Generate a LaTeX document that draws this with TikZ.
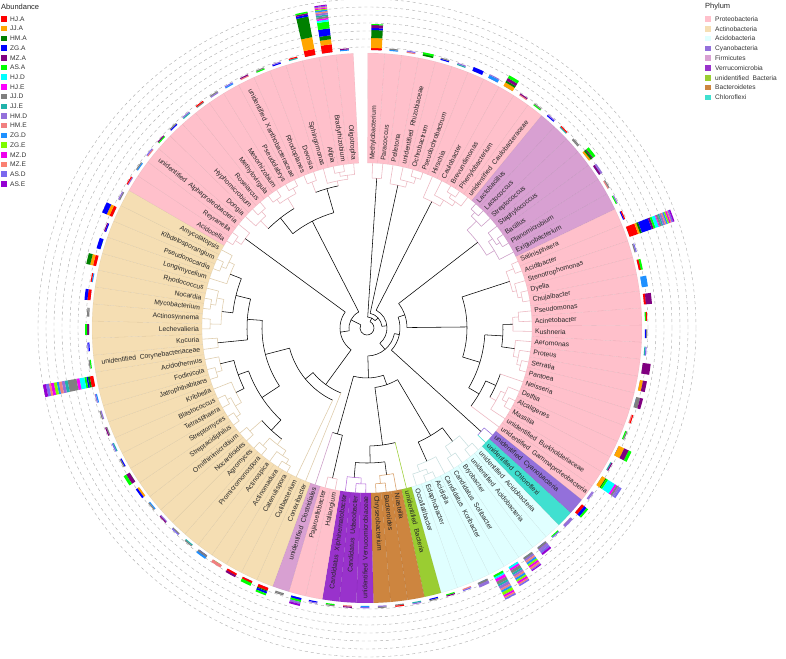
\documentclass[tikz,border=0pt]{standalone}
\usepackage{fontspec}
\setmainfont{Liberation Sans}
% phylum fills
\definecolor{proteo}{RGB}{255,192,203}
\definecolor{actino}{RGB}{245,222,179}
\definecolor{acido}{RGB}{224,255,255}
\definecolor{cyano}{RGB}{147,112,219}
\definecolor{firmi}{RGB}{216,160,210}
\definecolor{verruco}{RGB}{153,50,204}
\definecolor{unbact}{RGB}{154,205,50}
\definecolor{bactero}{RGB}{205,133,63}
\definecolor{chloro}{RGB}{64,224,208}
% branch colours
\colorlet{pline}{proteo!85!gray}
\colorlet{tline}{actino!80!gray}
\colorlet{aqline}{acido!75!gray}
\colorlet{fline}{firmi!85!gray}
\colorlet{cyline}{cyano}
\colorlet{chline}{chloro}
\colorlet{gline}{unbact}
\colorlet{bline}{bactero!80!white}
\colorlet{vline}{verruco!70!white}
% sample colours
\definecolor{sHJA}{RGB}{255,0,0}
\definecolor{sJJA}{RGB}{255,165,0}
\definecolor{sHMA}{RGB}{0,128,0}
\definecolor{sZGA}{RGB}{0,0,255}
\definecolor{sMZA}{RGB}{128,0,128}
\definecolor{sASA}{RGB}{0,255,0}
\definecolor{sHJD}{RGB}{0,255,255}
\definecolor{sHJE}{RGB}{255,0,255}
\definecolor{sJJD}{RGB}{128,128,128}
\definecolor{sJJE}{RGB}{32,178,170}
\definecolor{sHMD}{RGB}{147,112,219}
\definecolor{sHME}{RGB}{240,128,128}
\definecolor{sZGD}{RGB}{30,144,255}
\definecolor{sZGE}{RGB}{124,252,0}
\definecolor{sMZD}{RGB}{238,0,238}
\definecolor{sMZE}{RGB}{250,128,114}
\definecolor{sASD}{RGB}{123,104,238}
\definecolor{sASE}{RGB}{148,0,211}
\tikzset{
  declare function={ang(\k)=89.85-(\k-0.5)*3.57;},
  taxwedge/.style = {draw=black, draw opacity=0.07, line width=0.3pt},
  treeline/.style = {line width=0.55pt},
  tiplabel/.style = {font=\fontsize{6.8}{7}\selectfont, text=black!85, inner sep=0pt},
  gridline/.style = {gray!65, line width=0.4pt, dash pattern=on 3pt off 3pt},
  legtext/.style  = {font=\fontsize{6.6}{7}\selectfont, text=black!80, inner sep=0pt, anchor=west},
  legtitle/.style = {font=\fontsize{7.5}{8}\selectfont, text=black!85, inner sep=0pt, anchor=west},
  legkey/.style   = {minimum size=5.5pt, inner sep=0pt}
}

\begin{document}
\begin{tikzpicture}[x=1pt,y=1pt]
  \fill[white] (-367,-330) rectangle (419,328);
  \useasboundingbox (-367,-330) rectangle (419,328);

  % dashed rings behind the bars
  \foreach \gr in {281,289,297,305,313,321,329}
    \draw[gridline] (0,0) circle[radius=\gr];

  % phylum wedges, one slice per genus
  \foreach \na/\nb/\col in {1/11/proteo,12/18/firmi,19/36/proteo,37/37/cyano,38/38/chloro,
      39/46/acido,47/47/unbact,48/50/bactero,51/53/verruco,54/55/proteo,56/56/firmi,
      57/84/actino,85/100/proteo}
    \foreach \i in {\na,...,\nb}{
      \pgfmathsetmacro\angA{ang(\i)+1.785}
      \pgfmathsetmacro\angB{ang(\i)-1.785}
      \filldraw[taxwedge, fill=\col] (\angA:165) arc[start angle=\angA, end angle=\angB, radius=165]
        -- (\angB:275) arc[start angle=\angB, end angle=\angA, radius=275] -- cycle;
    }

  % tree: internal nodes (pos/first/last/radius/parent radius/line colour/arc colour)
  \foreach \np/\na/\nb/\nr/\nq/\nl/\nc in {
      1.5/1/2/150/11/black/pline, 5.5/5/6/158/152/pline/pline, 4.75/4/5.5/152/146/pline/pline,
      3.875/3/4.75/146/15/black/pline, 9.5/9/10/158/154/pline/pline, 10.25/9.5/11/154/149/pline/pline,
      9.125/8/10.25/149/142/pline/pline, 8.06/7/9.125/142/20/black/pline,
      12.5/12/13/158/153/fline/fline, 13.25/12.5/14/153/140/fline/fline, 16.5/16/17/158/154/fline/fline,
      15.75/15/16.5/154/149/fline/fline, 16.9/15.75/18/149/140/fline/fline, 15.1/13.25/16.9/140/40/black/fline,
      19.5/19/20/158/150/pline/pline, 22.5/22/23/158/154/pline/pline, 21.75/21/22.5/154/150/pline/pline,
      20.6/19.5/21.75/150/100/black/pline, 24.5/24/25/152/146/pline/pline, 25.25/24.5/26/146/136/black/pline,
      29.5/29/30/158/154/pline/pline, 28.75/28/29.5/154/149/pline/pline, 27.9/27/28.75/149/136/black/pline,
      26.6/25.25/27.9/136/118/black/black, 33.5/33/34/158/153/pline/pline, 32.75/32/33.5/153/148/pline/pline,
      33.9/32.75/35/148/141/pline/pline, 32.4/31/33.9/141/130/black/black, 34.2/32.4/36/130/118/black/black,
      30.4/26.6/34.2/118/100/black/black, 25.5/20.6/30.4/100/40/black/black,
      37.5/37/38/154/33/black/cyline,
      39.5/39/40/156/142/aqline/aqline, 41.5/41/42/153/142/aqline/aqline, 40.5/39.5/41.5/142/125/black/aqline,
      44.5/44/45/158/153/aqline/aqline, 45.25/44.5/46/153/146/aqline/aqline, 44.1/43/45.25/146/125/black/aqline,
      42.3/40.5/44.1/125/60/black/black,
      49.5/49/50/156/148/bline/bline, 48.75/48/49.5/148/135/black/bline, 51.5/51/52/156/150/vline/vline,
      52.25/51.5/53/150/135/black/vline, 50.5/48.75/52.25/135/118/black/black, 48.75/47/50.5/118/60/black/black,
      54.5/54/55/154/110/black/pline,
      59.5/59/60/158/153/tline/tline, 60.25/59.5/61/153/147/tline/tline, 62.5/62/63/157/147/tline/tline,
      61.4/60.25/62.5/147/140/tline/tline, 64.5/64/65/156/140/tline/tline, 62.95/61.4/64.5/140/126/black/black,
      66.5/66/67/158/153/tline/tline, 68.5/68/69/157/153/tline/tline, 67.5/66.5/68.5/153/146/tline/tline,
      68.75/67.5/70/146/137/black/tline, 71.5/71/72/157/151/tline/tline, 72.25/71.5/73/151/137/black/tline,
      70.5/68.75/72.25/137/126/black/black, 66.7/62.95/70.5/126/105/black/black, 74.5/74/75/150/120/black/tline,
      76.5/76/77/157/146/tline/tline, 78.5/78/79/158/153/tline/tline, 79.25/78.5/80/153/146/tline/tline,
      77.9/76.5/79.25/146/135/black/tline, 82.5/82/83/158/153/tline/tline, 83.25/82.5/84/153/147/tline/tline,
      82.1/81/83.25/147/135/black/tline, 80/77.9/82.1/135/120/black/black, 77.25/74.5/80/120/105/black/black,
      72/66.7/77.25/105/80/black/black, 65/58/72/80/70/black/black, 61/57/65/70/27/black/black,
      85.5/85/86/158/151/pline/pline, 86.25/85.5/87/151/27/black/pline, 89.5/89/90/157/151/pline/pline,
      88.75/88/89.5/151/140/pline/pline, 91.5/91/92/157/152/pline/pline, 93.5/93/94/158/152/pline/pline,
      92.5/91.5/93.5/152/140/pline/pline, 90.6/88.75/92.5/140/120/black/black, 95.5/95/96/156/145/pline/pline,
      98.5/98/99/158/154/pline/pline, 99.25/98.5/100/154/150/pline/pline, 98.1/97/99.25/150/145/pline/pline,
      96.8/95.5/98.1/145/120/black/black, 93.7/90.6/96.8/120/18/black/black,
      20.3/15.1/25.5/40/33/black/black, 28.9/20.3/37.5/33/28/black/black, 45.5/42.3/48.75/60/50/black/black,
      55.25/54.5/56/110/50/black/black, 50.4/45.5/55.25/50/28/black/black, 39.65/28.9/50.4/28/20/black/black,
      23.85/8.06/39.65/20/15/black/black, 13.86/3.875/23.85/15/11/black/black, 7.68/1.5/13.86/11/7/black/black,
      73.6/61/86.25/27/18/black/black, 83.65/73.6/93.7/18/7/black/black}{
    \pgfmathsetmacro\angP{ang(\np)}
    \pgfmathsetmacro\angA{ang(\na)}
    \pgfmathsetmacro\angB{ang(\nb)}
    \draw[treeline, \nc] (\angA:\nr) arc[start angle=\angA, end angle=\angB, radius=\nr];
    \draw[treeline, \nl] (\angP:\nq) -- (\angP:\nr);
  }
  % root
  \pgfmathsetmacro\angA{ang(7.68)}
  \pgfmathsetmacro\angB{ang(83.65)}
  \draw[treeline] (\angA:7) arc[start angle=\angA, end angle=\angB, radius=7];

  % tips (genus/parent radius/colour)
  \foreach \i/\nq/\col in {1/150/pline,2/150/pline,3/146/pline,4/152/pline,5/158/pline,6/158/pline,
      7/142/pline,8/149/pline,9/158/pline,10/158/pline,11/154/pline,
      12/158/fline,13/158/fline,14/153/fline,15/154/fline,16/158/fline,17/158/fline,18/149/fline,
      19/158/pline,20/158/pline,21/154/pline,22/158/pline,23/158/pline,24/152/pline,25/152/pline,
      26/146/pline,27/149/pline,28/154/pline,29/158/pline,30/158/pline,31/141/pline,32/153/pline,
      33/158/pline,34/158/pline,35/148/pline,36/130/pline,37/154/cyline,38/154/chline,
      39/156/aqline,40/156/aqline,41/153/aqline,42/153/aqline,43/146/aqline,44/158/aqline,
      45/158/aqline,46/153/aqline,47/118/gline,48/148/bline,49/156/bline,50/156/bline,
      51/156/vline,52/156/vline,53/150/vline,54/154/pline,55/154/pline,56/110/fline,
      57/70/tline,58/80/tline,59/158/tline,60/158/tline,61/153/tline,62/157/tline,63/157/tline,
      64/156/tline,65/156/tline,66/158/tline,67/158/tline,68/157/tline,69/157/tline,70/146/tline,
      71/157/tline,72/157/tline,73/151/tline,74/150/tline,75/150/tline,76/157/tline,77/157/tline,
      78/158/tline,79/158/tline,80/153/tline,81/147/tline,82/158/tline,83/158/tline,84/153/tline,
      85/158/pline,86/158/pline,87/151/pline,88/151/pline,89/157/pline,90/157/pline,91/157/pline,
      92/157/pline,93/158/pline,94/158/pline,95/156/pline,96/156/pline,97/150/pline,98/158/pline,
      99/158/pline,100/154/pline}{
    \pgfmathsetmacro\angP{ang(\i)}
    \draw[treeline, \col] (\angP:\nq) -- (\angP:165);
  }

  % genus labels
  \foreach \i/\nm in {1/Methylobacterium,2/Paracoccus,3/Pelletona,4/unidentified~ Rhizobiaceae,
      5/Ochrobactrum,6/Pseudochrobactrum,7/Hirschia,8/Caulobacter,9/Brevundimonas,10/Phenylobacterium,
      11/unidentified~ Caulobacteraceae,12/Lactobacillus,13/Lactococcus,14/Streptococcus,
      15/Staphylococcus,16/Bacillus,17/Planomicrobium,18/Exiguobacterium,19/Salinisphaera,
      20/Acidibacter,21/Stenotrophomonas,22/Dyella,23/Chujaibacter,24/Pseudomonas,25/Acinetobacter,
      26/Kushneria,27/Aeromonas,28/Proteus,29/Serratia,30/Pantoea,31/Neisseria,32/Delftia,
      33/Alcaligenes,34/Massilia,35/unidentified~ Burkholderiaceae,36/unidentified~ Gammaproteobacteria,
      37/unidentified~ Cyanobacteria,38/unidentified~ Chloroflexi,39/unidentified~ Acidobacteria,
      40/unidentified~ Acidobacteria,41/Bryobacter,42/Candidatus~ Solibacter,43/Candidatus~ Koribacter,
      44/Acidipila,45/Edaphobacter,46/Occallatibacter,47/unidentified~ Bacteria,48/Niastella,
      49/Bacteroides,50/Chryseobacterium,51/unidentified~ Verrucomicrobiaceae,52/Candidatus~ Udaeobacter,
      53/Candidatus~ Xiphinematobacter,54/Haliangium,55/Pajaroellobacter,56/unidentified~ Clostridiales,
      57/Conexibacter,58/Cutibacterium,59/Catenulispora,60/Actinomadura,61/Actinospica,
      62/Promicromonospora,63/Agromyces,64/Nocardioides,65/Ornithinimicrobium,66/Streptacidiphilus,
      67/Streptomyces,68/Tetrasphaera,69/Blastococcus,70/Kribbella,71/Jatrophihabitans,72/Fodinicola,
      73/Acidothermus,74/unidentified~ Corynebacteriaceae,75/Kocuria,76/Lechevalieria,77/Actinosynnema,
      78/Mycobacterium,79/Nocardia,80/Rhodococcus,81/Longimycelium,82/Pseudonocardia,
      83/Kibdelosporangium,84/Amycolatopsis,85/Acidocella,86/Reyranella,
      87/unidentified~ Alphaproteobacteria,88/Dongia,89/Hyphomicrobium,90/Roseiarcus,91/Methylovirgula,
      92/Mesorhizobium,93/Pseudolabrys,94/unidentified~ Xanthobacteraceae,95/Rhodoplanes,96/Devosia,
      97/Sphingomonas,98/Afipia,99/Bradyrhizobium,100/Oligotropha}{
    \pgfmathsetmacro\angP{ang(\i)}
    \ifdim \angP pt < -90pt
      \node[tiplabel, anchor=east, rotate=\angP+180] (tip\i) at (\angP:168) {\nm};
    \else
      \node[tiplabel, anchor=west, rotate=\angP] (tip\i) at (\angP:168) {\nm};
    \fi
  }

  % abundance bars: a short mixed stub for every genus, then the larger stacks
  \foreach \i in {1,...,100}{
    \pgfmathsetmacro\angA{ang(\i)+0.9}
    \pgfmathsetmacro\angB{ang(\i)-0.9}
    \pgfmathsetmacro\stubA{{"sJJD","sHMD","sZGD","sHME","sASA","sZGA","sJJE"}[mod(\i,7)]}
    \pgfmathsetmacro\stubB{{"sHMD","sHJA","sJJD","sASD","sMZA","sJJD"}[mod(\i,6)]}
    \fill[\stubA] (\angA:278) arc[start angle=\angA, end angle=\angB, radius=278]
      -- (\angB:279.2) arc[start angle=\angB, end angle=\angA, radius=279.2] -- cycle;
    \fill[\stubB] (\angA:279.2) arc[start angle=\angA, end angle=\angB, radius=279.2]
      -- (\angB:280.3) arc[start angle=\angB, end angle=\angA, radius=280.3] -- cycle;
  }
  \foreach \i/\segs in {
      1/{sHJA/2,sJJA/10,sHMA/8,sZGA/2,sMZA/3,sASA/1}, 4/{sHMA/1.5,sASA/2}, 7/{sZGA/4},
      8/{sZGD/3,sHMD/1}, 9/{sJJA/4,sHMA/2,sMZA/3,sASA/3}, 15/{sJJA/2,sHMA/2,sMZA/1,sASA/3},
      16/{sMZA/2,sHMD/2},
      20/{sHJA/9,sJJA/2,sHMA/2,sZGA/10.5,sMZA/2,sASA/2,sHJD/3.5,sHJE/1,sJJD/2,sJJE/1.5,sHMD/2,sHME/1.5,sZGD/1.5,sZGE/1.5,sMZD/1.5,sMZE/1,sASD/1.5,sASE/1.5},
      22/{sHJA/2,sASA/2}, 23/{sZGD/6}, 24/{sHJA/2,sMZA/6}, 28/{sMZA/8}, 29/{sJJA/3,sMZA/4},
      30/{sJJD/4,sMZA/3}, 33/{sJJA/6,sMZA/5,sASA/3},
      35/{sJJA/4,sHMA/1,sASA/2,sHJD/8,sHJE/2,sJJD/2,sHMD/2,sASD/2},
      37/{sHJA/3,sZGA/3,sASA/2}, 38/{sHMD/3}, 40/{sJJD/2,sHMD/3,sASD/2,sASE/2},
      41/{sJJD/2,sHMD/2,sHME/2,sZGD/2,sZGE/2,sMZD/2,sMZE/2,sASD/1,sASE/1},
      42/{sHJD/2,sHJE/2,sJJD/3,sJJE/2,sHMD/2,sHME/2,sZGD/2,sZGE/2,sMZD/2,sMZE/1.5,sASD/1.5},
      43/{sASA/2,sHJD/2,sHJE/3,sJJD/3,sJJE/2,sHMD/3,sHME/2,sZGD/2,sZGE/3,sMZD/2,sMZE/1.5,sASD/1.5},
      44/{sJJD/2,sHMD/3}, 55/{sZGA/2,sASA/2,sHMD/2,sASE/2}, 57/{sHJA/3,sHMA/1,sZGA/2,sASA/2},
      58/{sHJA/2,sASA/3}, 59/{sHJA/2,sMZA/2}, 60/{sHME/3}, 61/{sJJD/2,sZGD/2},
      66/{sJJA/2,sZGA/2}, 67/{sMZA/4,sASA/3},
      73/{sHJA/3.5,sHMA/2,sZGA/1.5,sASA/2,sHJD/5,sHJE/3,sJJD/9,sJJE/3,sHMD/3,sHME/3,sZGD/2,sZGE/3,sMZD/3,sMZE/2,sASD/3,sASE/3},
      76/{sMZA/2,sASA/2}, 78/{sHJA/3,sZGA/3}, 80/{sHJA/3,sJJA/3,sHMA/4}, 81/{sZGA/4},
      83/{sHJA/3,sJJA/3,sZGA/5}, 98/{sHJA/6,sJJA/12,sHMA/21,sZGA/2,sMZA/1.5,sASA/1.5},
      99/{sHJA/8,sJJA/5,sHMA/4,sZGA/7,sASA/7,sHJD/2,sHJE/1.5,sJJD/2,sJJE/1.5,sHMD/2,sHME/1.5,sZGD/1.5,sZGE/1,sMZD/1,sMZE/1,sASD/1,sASE/1}}{
    \pgfmathsetmacro\angA{ang(\i)+1.1}
    \pgfmathsetmacro\angB{ang(\i)-1.1}
    \xdef\rcur{278}
    \foreach \segc/\segl in \segs {
      \pgfmathsetmacro\rnext{\rcur+\segl}
      \fill[\segc] (\angA:\rcur) arc[start angle=\angA, end angle=\angB, radius=\rcur]
        -- (\angB:\rnext) arc[start angle=\angB, end angle=\angA, radius=\rnext] -- cycle;
      \xdef\rcur{\rnext}
    }
  }

  % legend: abundance
  \node[legtitle] (abtitle) at (-366,321) {Abundance};
  \foreach \k/\nm/\col in {0/HJ.A/sHJA,1/JJ.A/sJJA,2/HM.A/sHMA,3/ZG.A/sZGA,4/MZ.A/sMZA,5/AS.A/sASA,
      6/HJ.D/sHJD,7/HJ.E/sHJE,8/JJ.D/sJJD,9/JJ.E/sJJE,10/HM.D/sHMD,11/HM.E/sHME,12/ZG.D/sZGD,
      13/ZG.E/sZGE,14/MZ.D/sMZD,15/MZ.E/sMZE,16/AS.D/sASD,17/AS.E/sASE}{
    \node[legkey, fill=\col] (abkey\k) at (-363, 309-9.7*\k) {};
    \node[legtext] (ablab\k) at (-357, 309-9.7*\k) {\nm};
  }

  % legend: phylum
  \node[legtitle] (phtitle) at (338,321) {Phylum};
  \foreach \k/\nm/\col in {0/Proteobacteria/proteo,1/Actinobacteria/actino,2/Acidobacteria/acido,
      3/Cyanobacteria/cyano,4/Firmicutes/firmi,5/Verrucomicrobia/verruco,
      6/unidentified~ Bacteria/unbact,7/Bacteroidetes/bactero,8/Chloroflexi/chloro}{
    \node[legkey, fill=\col] (phkey\k) at (341, 309-9.8*\k) {};
    \node[legtext] (phlab\k) at (348, 309-9.8*\k) {\nm};
  }
\end{tikzpicture}
\end{document}
